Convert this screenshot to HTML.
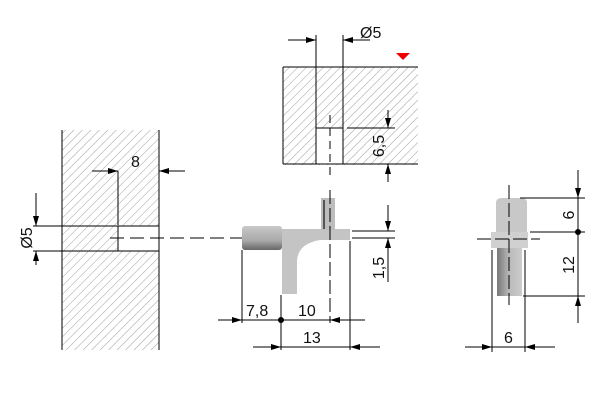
<!DOCTYPE html>
<html><head><meta charset="utf-8"><style>body{margin:0;background:#fff}svg{display:block}text{font-family:"Liberation Sans",sans-serif;font-size:16px;fill:#111}</style></head><body>
<svg width="600" height="400" viewBox="0 0 600 400">
<defs>
<pattern id="h" width="6" height="6" patternUnits="userSpaceOnUse" patternTransform="rotate(45)"><line x1="0" y1="0" x2="0" y2="6" stroke="#888" stroke-width="0.8"/></pattern>
<marker id="a" markerWidth="10" markerHeight="6" refX="10" refY="3" orient="auto" markerUnits="userSpaceOnUse"><path d="M0,0L10,3L0,6z" fill="#000"/></marker>
<linearGradient id="g" x1="0" x2="1"><stop offset="0" stop-color="#777"/><stop offset="0.5" stop-color="#bbb"/><stop offset="1" stop-color="#ccc"/></linearGradient>
<linearGradient id="g2" x1="0" y1="0" x2="0" y2="1"><stop offset="0" stop-color="#c8c8c8"/><stop offset="0.6" stop-color="#aaa"/><stop offset="1" stop-color="#666"/></linearGradient>
</defs>
<g stroke="#000" stroke-width="1" fill="none">
<rect x="62" y="130" width="97" height="220" fill="url(#h)" stroke="none"/>
<line x1="62" y1="130" x2="62" y2="350"/><line x1="159" y1="130" x2="159" y2="350"/>
<rect x="118" y="226" width="41" height="25" fill="#fff"/>
<line x1="33" y1="226" x2="118" y2="226"/><line x1="33" y1="251" x2="118" y2="251"/>
<line x1="36" y1="193" x2="36" y2="226" marker-end="url(#a)"/><line x1="36" y1="265" x2="36" y2="251" marker-end="url(#a)"/>
<line x1="118" y1="171" x2="118" y2="225"/>
<line x1="92" y1="171" x2="118" y2="171" marker-end="url(#a)"/><line x1="185" y1="171" x2="159" y2="171" marker-end="url(#a)"/>
<line x1="110" y1="238" x2="280" y2="238" stroke-dasharray="14,6"/>
<rect x="283" y="67" width="135" height="98" fill="url(#h)" stroke="none"/>
<line x1="283" y1="67" x2="418" y2="67"/><line x1="283" y1="164" x2="418" y2="164"/><line x1="283" y1="67" x2="283" y2="164"/>
<rect x="316" y="128" width="27" height="36" fill="#fff"/>
<line x1="316" y1="35" x2="316" y2="128"/><line x1="343" y1="35" x2="343" y2="128"/>
<line x1="288" y1="40" x2="316" y2="40" marker-end="url(#a)"/><line x1="370" y1="40" x2="343" y2="40" marker-end="url(#a)"/>
<line x1="330" y1="115" x2="330" y2="175" stroke-dasharray="8,5"/>
<line x1="347" y1="128" x2="395" y2="128"/>
<line x1="388" y1="110" x2="388" y2="128" marker-end="url(#a)"/><line x1="388" y1="182" x2="388" y2="164" marker-end="url(#a)"/>
<path d="M282,229H350V240H320Q297,244 297,262V294H282Z" fill="#c4c4c4" stroke="none"/>
<rect x="242" y="226" width="40" height="24" rx="3" fill="url(#g2)" stroke="none"/>
<rect x="321" y="198" width="14" height="32" fill="#bdbdbd" stroke="none"/>
<line x1="324" y1="200" x2="324" y2="229" stroke="#555" stroke-width="2"/>
<line x1="330" y1="190" x2="330" y2="323" stroke-dasharray="14,4"/>
<line x1="352" y1="231" x2="395" y2="231"/><line x1="352" y1="238" x2="395" y2="238"/>
<line x1="388" y1="205" x2="388" y2="231" marker-end="url(#a)"/><line x1="388" y1="282" x2="388" y2="238" marker-end="url(#a)"/>
<line x1="242" y1="250" x2="242" y2="323"/><line x1="281" y1="295" x2="281" y2="350"/><line x1="350" y1="241" x2="350" y2="350"/>
<line x1="218" y1="320" x2="242" y2="320" marker-end="url(#a)"/><line x1="242" y1="320" x2="330" y2="320"/><line x1="365" y1="320" x2="330" y2="320" marker-end="url(#a)"/>
<line x1="253" y1="347" x2="281" y2="347" marker-end="url(#a)"/><line x1="281" y1="347" x2="350" y2="347"/><line x1="380" y1="347" x2="350" y2="347" marker-end="url(#a)"/>
<path d="M497,296V248H522V296Z" fill="url(#g)" stroke="none"/>
<path d="M496,233V203Q496,198 502,198H521Q527,198 527,203V233Z" fill="#c8c8c8" stroke="none"/>
<rect x="491" y="232" width="37" height="16" fill="#d0d0d0" stroke="none"/>
<line x1="509" y1="185" x2="509" y2="305" stroke-dasharray="14,4"/>
<line x1="477" y1="239" x2="540" y2="239" stroke-dasharray="14,4"/>
<line x1="520" y1="198" x2="585" y2="198"/><line x1="530" y1="232" x2="585" y2="232"/><line x1="523" y1="296" x2="585" y2="296"/>
<line x1="578" y1="170" x2="578" y2="198" marker-end="url(#a)"/><line x1="578" y1="198" x2="578" y2="296"/><line x1="578" y1="323" x2="578" y2="296" marker-end="url(#a)"/>
<line x1="492" y1="250" x2="492" y2="352"/><line x1="525" y1="250" x2="525" y2="352"/>
<line x1="465" y1="347" x2="492" y2="347" marker-end="url(#a)"/><line x1="492" y1="347" x2="525" y2="347"/><line x1="555" y1="347" x2="525" y2="347" marker-end="url(#a)"/>
</g>
<circle cx="281" cy="320" r="3" fill="#000"/><circle cx="578" cy="232" r="3" fill="#000"/>
<path d="M396,53H410L403,60Z" fill="#e00"/>
<text x="131" y="167">8</text>
<text x="360" y="38">Ø5</text>
<text transform="translate(32,238) rotate(-90)" text-anchor="middle">Ø5</text>
<text transform="translate(384,146) rotate(-90)" text-anchor="middle">6,5</text>
<text transform="translate(384,268) rotate(-90)" text-anchor="middle">1,5</text>
<text x="246" y="316">7,8</text><text x="298" y="316">10</text><text x="303" y="343">13</text>
<text transform="translate(574,215) rotate(-90)" text-anchor="middle">6</text>
<text transform="translate(574,265) rotate(-90)" text-anchor="middle">12</text>
<text x="504" y="343">6</text>
</svg>
</body></html>
